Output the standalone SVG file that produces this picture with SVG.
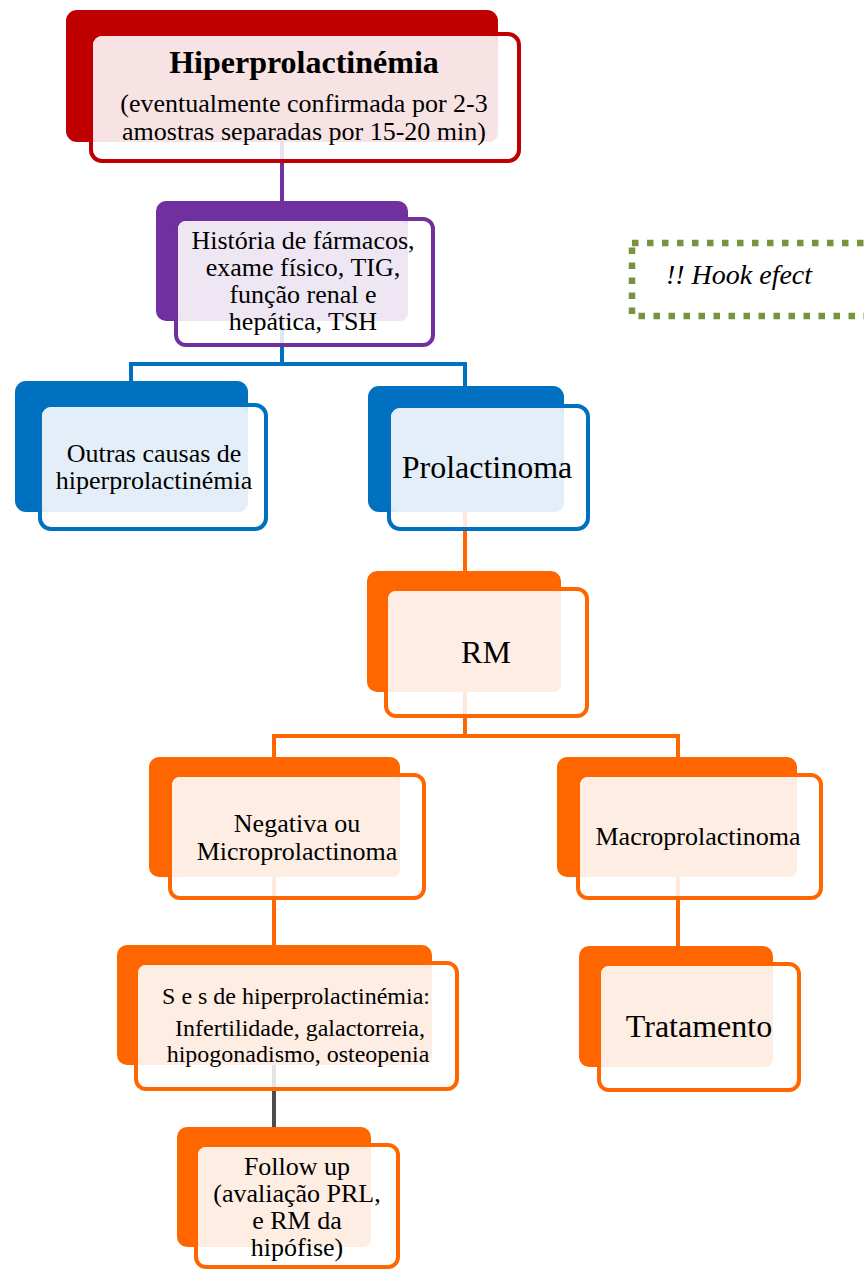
<svg xmlns="http://www.w3.org/2000/svg" width="864" height="1269" viewBox="0 0 864 1269">
<style>
text{font-family:"Liberation Serif","Times New Roman",serif;fill:#000;text-anchor:middle}
.t26{font-size:26px}
.t24{font-size:24px}
.t32{font-size:32px}
.front{fill:#fff;fill-opacity:0.85;stroke-width:4}
.conn{fill:none;stroke-width:4}
.red .back{fill:#C00000}.red .front{stroke:#C00000}.red .tint{fill:#F7E3E3}
.pur .back{fill:#7030A0}.pur .front{stroke:#7030A0}.pur .tint{fill:#EEE7F3}
.blu .back{fill:#0070C0}.blu .front{stroke:#0070C0}.blu .tint{fill:#E4EEF8}
.ora .back{fill:#FF6600}.ora .front{stroke:#FF6600}.ora .tint{fill:#FEEDE3}
</style>
<rect width="864" height="1269" fill="#fff"/>
<g id="connectors">
<path class="conn" stroke="#7030A0" d="M282,142 V202"/>
<path class="conn" stroke="#0070C0" d="M282,321 V364 M129,364 H467 M131,364 V382 M465,364 V387"/>
<path class="conn" stroke="#FF6600" d="M465,512 V572"/>
<path class="conn" stroke="#FF6600" d="M465,692 V736 M272,736 H680 M274,736 V758 M678,736 V758"/>
<path class="conn" stroke="#FF6600" d="M274,877 V946"/>
<path class="conn" stroke="#FF6600" d="M678,877 V947"/>
<path class="conn" stroke="#4D4D4D" d="M274,1065 V1128"/>
</g>
<g id="n-hiperprolactinemia" class="red">
<rect class="back" x="66" y="10" width="432" height="132" rx="11"/>
<rect class="front" x="91" y="34" width="428" height="127" rx="11"/>
<rect class="tint" x="93" y="36" width="405" height="106" rx="9"/>
<text x="304" y="73" style="font-size:32px;font-weight:bold">Hiperprolactinémia</text>
<text class="t26" x="304" y="112">(eventualmente confirmada por 2-3</text>
<text class="t26" x="304" y="140">amostras separadas por 15-20 min)</text>
</g>
<g id="n-historia" class="pur">
<rect class="back" x="156" y="201" width="252" height="120" rx="10"/>
<rect class="front" x="176" y="219" width="257" height="126" rx="10"/>
<rect class="tint" x="178" y="221" width="230" height="100" rx="8"/>
<text class="t26" x="303" y="249">História de fármacos,</text>
<text class="t26" x="303" y="276">exame físico, TIG,</text>
<text class="t26" x="303" y="303">função renal e</text>
<text class="t26" x="303" y="330">hepática, TSH</text>
</g>
<g id="n-hook">
<rect x="632" y="243" width="300" height="73" fill="none" stroke="#77933C" stroke-width="6.5" stroke-dasharray="6.5 8.5"/>
<text x="739" y="284" style="font-size:28px;font-style:italic">!! Hook efect</text>
</g>
<g id="n-outras" class="blu">
<rect class="back" x="15" y="381" width="233" height="131" rx="11"/>
<rect class="front" x="40" y="405" width="226" height="124" rx="11"/>
<rect class="tint" x="42" y="407" width="206" height="105" rx="9"/>
<text class="t26" x="154" y="462">Outras causas de</text>
<text class="t26" x="154" y="489">hiperprolactinémia</text>
</g>
<g id="n-prolactinoma" class="blu">
<rect class="back" x="368" y="386" width="196" height="126" rx="11"/>
<rect class="front" x="389" y="406" width="199" height="123" rx="11"/>
<rect class="tint" x="391" y="408" width="173" height="104" rx="9"/>
<text class="t32" x="487" y="478">Prolactinoma</text>
</g>
<g id="n-rm" class="ora">
<rect class="back" x="367" y="571" width="194" height="121" rx="10"/>
<rect class="front" x="386" y="589" width="201" height="127" rx="10"/>
<rect class="tint" x="388" y="591" width="173" height="101" rx="8"/>
<text class="t32" x="486" y="663">RM</text>
</g>
<g id="n-negativa" class="ora">
<rect class="back" x="149" y="757" width="251" height="120" rx="10"/>
<rect class="front" x="170" y="775" width="254" height="123" rx="10"/>
<rect class="tint" x="172" y="777" width="228" height="100" rx="8"/>
<text class="t26" x="297" y="832">Negativa ou</text>
<text class="t26" x="297" y="860">Microprolactinoma</text>
</g>
<g id="n-macro" class="ora">
<rect class="back" x="557" y="757" width="240" height="120" rx="10"/>
<rect class="front" x="578" y="775" width="243" height="123" rx="10"/>
<rect class="tint" x="580" y="777" width="217" height="100" rx="8"/>
<text class="t26" x="698" y="845">Macroprolactinoma</text>
</g>
<g id="n-ses" class="ora">
<rect class="back" x="117" y="945" width="315" height="120" rx="10"/>
<rect class="front" x="136" y="963" width="321" height="126" rx="10"/>
<rect class="tint" x="138" y="965" width="294" height="100" rx="8"/>
<text class="t24" x="296" y="1004">S e s de hiperprolactinémia:</text>
<text class="t24" x="300" y="1036">Infertilidade, galactorreia,</text>
<text class="t24" x="298" y="1062">hipogonadismo, osteopenia</text>
</g>
<g id="n-tratamento" class="ora">
<rect class="back" x="579" y="946" width="194" height="121" rx="10"/>
<rect class="front" x="599" y="964" width="200" height="126" rx="10"/>
<rect class="tint" x="601" y="966" width="172" height="101" rx="8"/>
<text class="t32" x="699" y="1037">Tratamento</text>
</g>
<g id="n-followup" class="ora">
<rect class="back" x="177" y="1127" width="194" height="120" rx="10"/>
<rect class="front" x="196" y="1145" width="202" height="122" rx="10"/>
<rect class="tint" x="198" y="1147" width="173" height="100" rx="8"/>
<text class="t26" x="297" y="1175">Follow up</text>
<text class="t26" x="297" y="1202">(avaliação PRL,</text>
<text class="t26" x="297" y="1229">e RM da</text>
<text class="t26" x="297" y="1256">hipófise)</text>
</g>
</svg>
